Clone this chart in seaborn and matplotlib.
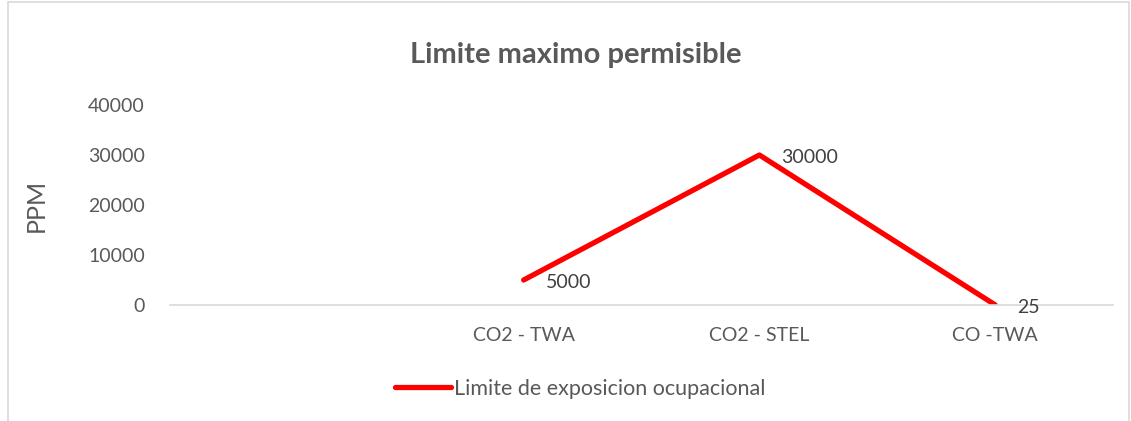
import pandas as pd
import matplotlib.pyplot as plt
import matplotlib.patches as mpatches
import seaborn as sb

# data
categorias = ["", "CO2 - TWA", "CO2 - STEL", "CO -TWA"]
ppm = [None, 5000, 30000, 25]
serie = "Limite de exposicion ocupacional"

df = pd.DataFrame({"pos": range(len(categorias)), "ppm": ppm}).dropna()

sb.set_style("white")
plt.rcParams['font.family'] = ['Lato', 'DejaVu Sans']
gris = "#595959"

fig = plt.figure(figsize=(11.31, 4.21), dpi=100)
ax = fig.add_axes([0.1503, 0.2755, 0.8338, 0.4751])

sb.lineplot(data=df, x="pos", y="ppm", color="#ff0000", linewidth=3.8,
            label=serie, ax=ax, legend=False)

# data labels
for x, y in zip(df["pos"], df["ppm"]):
    ax.annotate(f"{int(y)}", (x, y), xytext=(16, -2), textcoords="offset points",
                ha="left", va="center", fontsize=14, color="#404040")

ax.set_xlim(-0.5, len(categorias) - 0.5)
ax.set_ylim(0, 40000)
ax.set_yticks([0, 10000, 20000, 30000, 40000])
ax.set_xticks(range(len(categorias)))
ax.set_xticklabels(categorias)
ax.tick_params(axis="both", length=0, labelsize=14, colors=gris)
ax.tick_params(axis="x", pad=16)
ax.tick_params(axis="y", pad=18)
for s in ["top", "right", "left"]:
    ax.spines[s].set_visible(False)
ax.spines["bottom"].set_color("#d9d9d9")
ax.spines["bottom"].set_linewidth(1.2)
ax.set_xlabel("")
ax.set_ylabel("PPM", fontsize=18, color=gris)
ax.yaxis.set_label_coords(-0.13, 0.5)

fig.text(0.509, 0.869, "Limite maximo permisible", ha="center", va="center",
         fontsize=21, fontweight="bold", color=gris)

# legend below the plot
h = plt.Line2D([], [], color="#ff0000", linewidth=3.8)
fig.legend([h], [serie], loc="center", bbox_to_anchor=(0.513, 0.076),
           frameon=False, fontsize=15.5, labelcolor=gris, handlelength=2.6,
           handletextpad=0.1)

# outer chart border
fig.patches.append(mpatches.Rectangle((0.007, -0.05), 0.991, 1.045,
                                      transform=fig.transFigure, fill=False,
                                      edgecolor="#d9d9d9", linewidth=1.2))

fig.savefig("out.png", dpi=100)
